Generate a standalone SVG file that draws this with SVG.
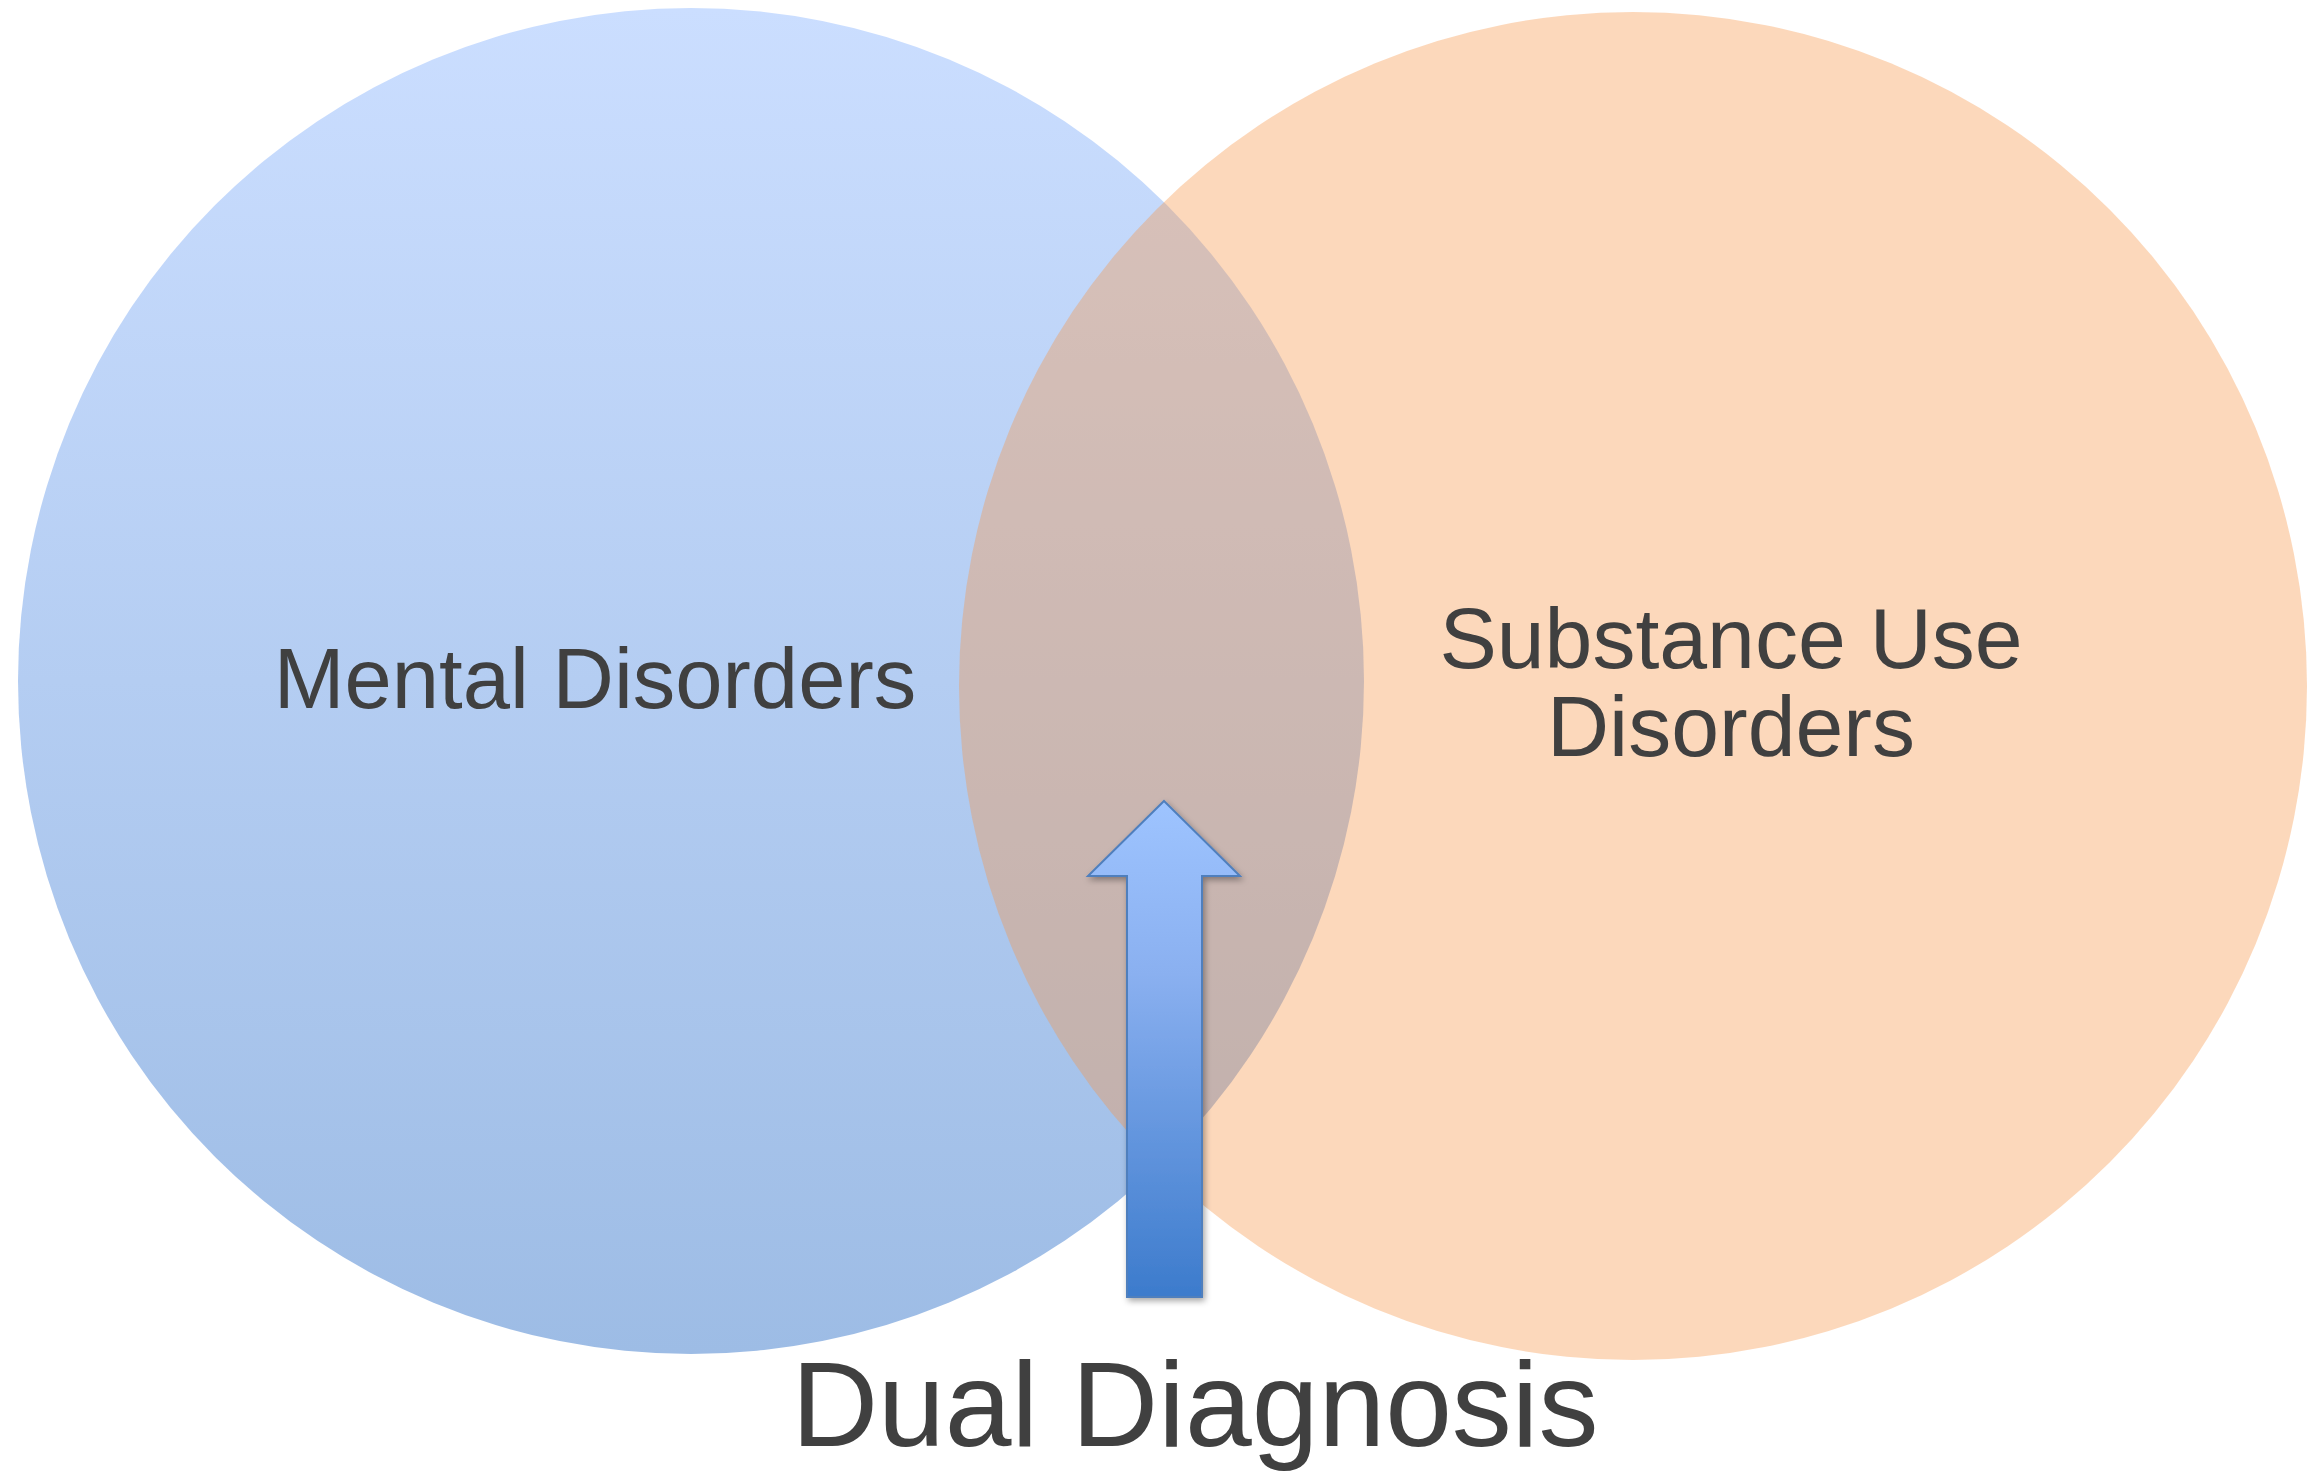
<svg xmlns="http://www.w3.org/2000/svg" width="2322" height="1472" viewBox="0 0 2322 1472">
  <defs>
    <linearGradient id="blueGrad" gradientUnits="userSpaceOnUse" x1="0" y1="8" x2="0" y2="1354">
      <stop offset="0" stop-color="#cbdeff"/>
      <stop offset="1" stop-color="#9dbce5"/>
    </linearGradient>
    <linearGradient id="arrowGrad" gradientUnits="userSpaceOnUse" x1="0" y1="801" x2="0" y2="1297">
      <stop offset="0" stop-color="#9ec4ff"/>
      <stop offset="0.35" stop-color="#8ab0f0"/>
      <stop offset="1" stop-color="#3c7bcc"/>
    </linearGradient>
    <filter id="shadow" x="-30%" y="-10%" width="160%" height="125%">
      <feDropShadow dx="2" dy="3" stdDeviation="3" flood-color="#000000" flood-opacity="0.35"/>
    </filter>
  </defs>
  <style>
    .label { font-family: "Liberation Sans", Arial, Helvetica, sans-serif; fill: #404040; text-anchor: middle; }
  </style>
  <rect x="0" y="0" width="2322" height="1472" fill="#ffffff"/>

  <g id="mental-disorders">
    <circle cx="691" cy="681" r="673" fill="url(#blueGrad)"/>
    <text class="label" x="595" y="708" font-size="85">Mental Disorders</text>
  </g>

  <g id="substance-use-disorders">
    <circle cx="1633" cy="686" r="674" fill="#F79646" fill-opacity="0.37"/>
    <text class="label" x="1731" y="668" font-size="86">Substance Use</text>
    <text class="label" x="1731" y="756" font-size="86">Disorders</text>
  </g>

  <g id="connectors">
    <polygon points="1164,801 1240,876 1202,876 1202,1297 1127,1297 1127,876 1088,876" fill="url(#arrowGrad)" stroke="#4f7fbd" stroke-width="2" stroke-linejoin="miter" filter="url(#shadow)"/>
  </g>

  <g id="dual-diagnosis">
    <text class="label" x="1195" y="1446" font-size="120">Dual Diagnosis</text>
  </g>
</svg>
